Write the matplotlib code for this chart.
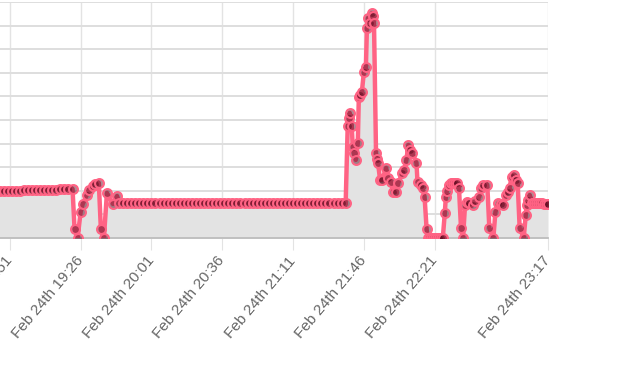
import matplotlib
matplotlib.use("Agg")
import matplotlib.pyplot as plt

plt.rcParams['font.family'] = ['Liberation Sans', 'DejaVu Sans']

# readings (time of day, value)
times = [
    # steady stretch before 19:22
    "18:16", "18:18", "18:20", "18:22", "18:24", "18:26", "18:28", "18:30", "18:32", "18:34",
    "18:36", "18:38", "18:40", "18:42", "18:44", "18:46", "18:48", "18:50", "18:52", "18:54",
    "18:56", "18:58", "19:00", "19:02", "19:04", "19:06", "19:08", "19:10", "19:12", "19:14",
    "19:16", "19:18", "19:20", "19:22",
    # dips
    "19:23", "19:24:30", "19:26", "19:27", "19:29", "19:30", "19:32", "19:33", "19:35",
    "19:36", "19:37:30", "19:39", "19:42", "19:44",
    # long steady stretch
    "19:45", "19:47", "19:49", "19:51", "19:53", "19:55", "19:57", "19:59", "20:01", "20:03",
    "20:05", "20:07", "20:09", "20:11", "20:13", "20:15", "20:17", "20:19", "20:21", "20:23",
    "20:25", "20:27", "20:29", "20:31", "20:33", "20:35", "20:37", "20:39", "20:41", "20:43",
    "20:45", "20:47", "20:49", "20:51", "20:53", "20:55", "20:57", "20:59", "21:01", "21:03",
    "21:05", "21:07", "21:09", "21:11", "21:13", "21:15", "21:17", "21:19", "21:21", "21:23",
    "21:25", "21:27", "21:29", "21:31", "21:33", "21:35", "21:37",
    # spike
    "21:38", "21:38:30", "21:39", "21:40", "21:40:30", "21:41", "21:42", "21:43", "21:43:30",
    "21:44", "21:45", "21:46", "21:47", "21:47:30", "21:48", "21:49", "21:50", "21:50:30", "21:51",
    "21:52", "21:52:30", "21:53", "21:54", "21:55", "21:57", "21:58", "21:59:30", "22:00:30",
    "22:02", "22:03", "22:05", "22:06", "22:07", "22:08", "22:09", "22:10", "22:12", "22:12:30",
    "22:14", "22:15", "22:16",
    # zero stretch
    "22:17", "22:17:30", "22:18", "22:19", "22:20", "22:21", "22:22", "22:23", "22:24", "22:25",
    # oscillations
    "22:26", "22:26:30", "22:27", "22:28", "22:29", "22:30", "22:31", "22:32", "22:33", "22:34", "22:35",
    "22:36", "22:37", "22:38", "22:40", "22:41", "22:43", "22:44", "22:45", "22:47", "22:48", "22:50",
    "22:51", "22:52:30", "22:54", "22:55", "22:56", "22:57", "22:58", "22:59", "23:00", "23:01", "23:02",
    "23:03", "23:05", "23:06", "23:06:30", "23:07", "23:08", "23:09",
    "23:10", "23:11", "23:12", "23:13", "23:14", "23:15", "23:16", "23:17",
]
values = [
    1.97, 1.97, 1.97, 1.97, 1.98, 1.98, 1.98, 1.98, 1.98, 1.98,
    1.99, 1.99, 1.99, 1.99, 1.99, 1.99, 2.00, 2.00, 2.00, 2.01,
    2.01, 2.02, 2.02, 2.03, 2.03, 2.03, 2.04, 2.04, 2.05, 2.05,
    2.06, 2.06, 2.07, 2.08,
    0.38, 0.00, 1.10, 1.44, 1.82, 2.05, 2.22, 2.28, 2.33,
    0.38, 0.00, 1.91, 1.44, 1.78,
    1.50, 1.50, 1.49, 1.49, 1.49, 1.49, 1.48, 1.48, 1.48, 1.48,
    1.48, 1.48, 1.48, 1.48, 1.48, 1.48, 1.48, 1.48, 1.48, 1.48,
    1.48, 1.48, 1.48, 1.48, 1.48, 1.48, 1.48, 1.48, 1.48, 1.48,
    1.48, 1.48, 1.48, 1.48, 1.48, 1.48, 1.47, 1.47, 1.47, 1.47,
    1.47, 1.47, 1.47, 1.47, 1.47, 1.47, 1.47, 1.47, 1.47, 1.47,
    1.47, 1.47, 1.47, 1.47, 1.47, 1.47, 1.47,
    4.75, 5.08, 5.30, 4.75, 3.86, 3.60, 3.31, 4.03, 5.97,
    6.05, 6.19, 7.03, 7.25, 8.90, 9.32, 9.11, 9.53, 9.40, 9.11,
    3.60, 3.35, 3.18, 2.46, 2.46, 2.97, 2.54, 2.37, 1.95,
    1.95, 2.33, 2.75, 2.90, 3.31, 3.94, 3.75, 3.60, 3.18, 2.37,
    2.25, 2.12, 1.74,
    0.38, 0.00, 0.00, 0.00, 0.00, 0.00, 0.00, 0.00, 0.00, 0.00,
    1.06, 1.74, 2.00, 2.25, 2.33, 2.33, 2.33, 2.33, 2.12, 0.42, 0.00,
    1.40, 1.53, 1.50, 1.40, 1.55, 1.74, 2.12, 2.25, 2.25, 0.42, 0.00,
    1.10, 1.48, 1.45, 1.40, 1.82, 1.95, 2.12, 2.58, 2.67, 2.46, 2.33,
    0.42, 0.00, 0.97, 1.40, 1.60, 1.82, 1.48,
    1.48, 1.48, 1.48, 1.48, 1.47, 1.46, 1.45, 1.44,
]

tick_times = ["18:51", "19:26", "20:01", "20:36", "21:11", "21:46", "22:21", "23:17"]
tick_labels = ["Feb 24th 18:51", "Feb 24th 19:26", "Feb 24th 20:01", "Feb 24th 20:36",
               "Feb 24th 21:11", "Feb 24th 21:46", "Feb 24th 22:21", "Feb 24th 23:17"]
axis_start, axis_end = "18:16", "23:17"
y_min, y_max = 0, 10


def to_min(s):
    parts = [int(p) for p in s.split(":")]
    sec = parts[2] if len(parts) > 2 else 0
    return parts[0] * 60 + parts[1] + sec / 60.0


x = [to_min(t) for t in times]

W, H = 623, 385
fig = plt.figure(figsize=(W / 100, H / 100), dpi=100)
left_px, right_px, top_px, bottom_px = -61, 548, 2, 238
ax = fig.add_axes([left_px / W, 1 - bottom_px / H, (right_px - left_px) / W, (bottom_px - top_px) / H])

ax.fill_between(x, values, 0, color='#e3e3e3', linewidth=0, zorder=1)
ax.plot(x, values, color='#ff6384', lw=3.2, solid_joinstyle='round', zorder=3,
        marker='o', ms=6.4, mfc=(0.3, 0.0, 0.08, 0.45), mec='#ff6384', mew=1.5)

ax.set_xlim(to_min(axis_start), to_min(axis_end))
ax.set_ylim(y_min, y_max)
ax.set_yticks(range(y_min, y_max + 1))
ax.set_xticks([to_min(t) for t in tick_times])
ax.set_xticklabels(tick_labels)
ax.set_axisbelow(True)
ax.xaxis.grid(True, color='#e3e3e3', lw=1.0, alpha=1)
ax.yaxis.grid(True, color='#dedede', lw=1.4, alpha=1)

for s in ['left', 'top', 'right']:
    ax.spines[s].set_visible(False)
ax.spines['bottom'].set_color('#bdbdbd')
ax.spines['bottom'].set_linewidth(1.3)

ax.tick_params(axis='y', length=0, labelleft=False)
ax.tick_params(axis='x', length=8.6, width=0.8, color='#e3e3e3',
               labelcolor='#666666', labelsize=11, pad=6)
for lab in ax.get_xticklabels():
    lab.set_rotation(50)
    lab.set_ha('right')
    lab.set_va('center')
    lab.set_rotation_mode('anchor')

fig.savefig("out.png", dpi=100)
